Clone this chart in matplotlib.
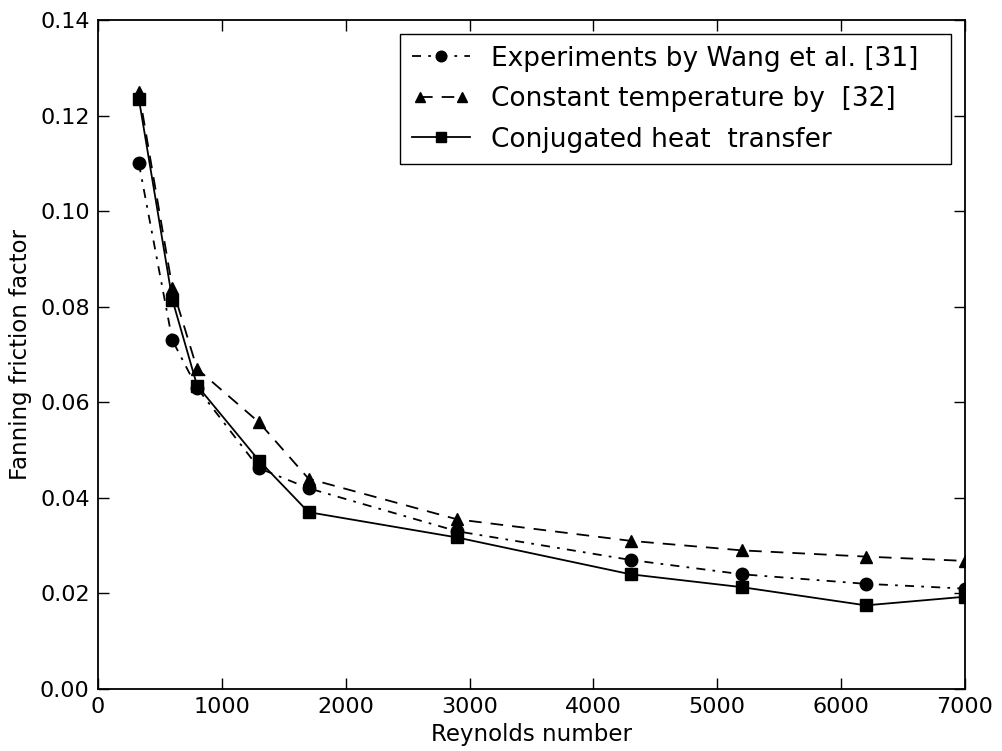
import matplotlib
matplotlib.use('Agg')
import matplotlib.pyplot as plt
from matplotlib.legend_handler import HandlerLine2D

# Reynolds numbers shared by all three data sets
reynolds = [330, 600, 800, 1300, 1700, 2900, 4300, 5200, 6200, 7000]

# Fanning friction factor
f_wang = [0.110, 0.073, 0.063, 0.0462, 0.042, 0.033, 0.027, 0.024, 0.022, 0.021]
f_const_temp = [0.125, 0.084, 0.067, 0.0558, 0.044, 0.0355, 0.031, 0.029, 0.0277, 0.0268]
f_conjugated = [0.1235, 0.0815, 0.0635, 0.0478, 0.037, 0.0317, 0.024, 0.0213, 0.0175, 0.0193]

labels = ['Experiments by Wang et al. [31]',
          'Constant temperature by  [32]',
          'Conjugated heat  transfer']

fig = plt.figure(figsize=(10.02, 7.51), dpi=100)
ax = fig.add_axes([0.0978, 0.0826, 0.8652, 0.8908])

l1, = ax.plot(reynolds, f_wang, color='black', marker='o', markersize=9,
              linewidth=1.3, dashes=(5, 4, 1.5, 4), label=labels[0])
l2, = ax.plot(reynolds, f_const_temp, color='black', marker='^', markersize=9,
              linewidth=1.3, dashes=(7, 5), label=labels[1])
l3, = ax.plot(reynolds, f_conjugated, color='black', marker='s', markersize=9,
              linewidth=1.3, linestyle='-', label=labels[2])

ax.set_xlim(0, 7000)
ax.set_ylim(0, 0.14)
ax.set_xticks(range(0, 7001, 1000))
ax.set_yticks([0.0, 0.02, 0.04, 0.06, 0.08, 0.10, 0.12, 0.14])
ax.yaxis.set_major_formatter(matplotlib.ticker.FormatStrFormatter('%.2f'))
ax.tick_params(direction='in', top=True, right=True, length=8, width=1,
               labelsize=16, pad=6)
for spine in ax.spines.values():
    spine.set_linewidth(1.3)

ax.set_xlabel('Reynolds number', fontsize=16.5, labelpad=4)
ax.set_ylabel('Fanning friction factor', fontsize=16.5, labelpad=6)

# legend box spans a fixed width in figure pixels
leg_left, leg_right, leg_top = 400, 951, 34
leg = ax.legend(handles=[l1, l2, l3], loc='upper left', mode='expand',
                bbox_to_anchor=(leg_left / 1002, 1 - leg_top / 751,
                                (leg_right - leg_left) / 1002, 0),
                bbox_transform=fig.transFigure, borderaxespad=0,
                fontsize=19, fancybox=False, framealpha=1, edgecolor='black',
                handlelength=2.2, handletextpad=0.8, borderpad=0.44,
                labelspacing=0.55, markerscale=0.85,
                handler_map={l1: HandlerLine2D(numpoints=1),
                             l2: HandlerLine2D(numpoints=2),
                             l3: HandlerLine2D(numpoints=1)})
leg.get_frame().set_linewidth(1.0)

fig.savefig('out.png', dpi=100)
